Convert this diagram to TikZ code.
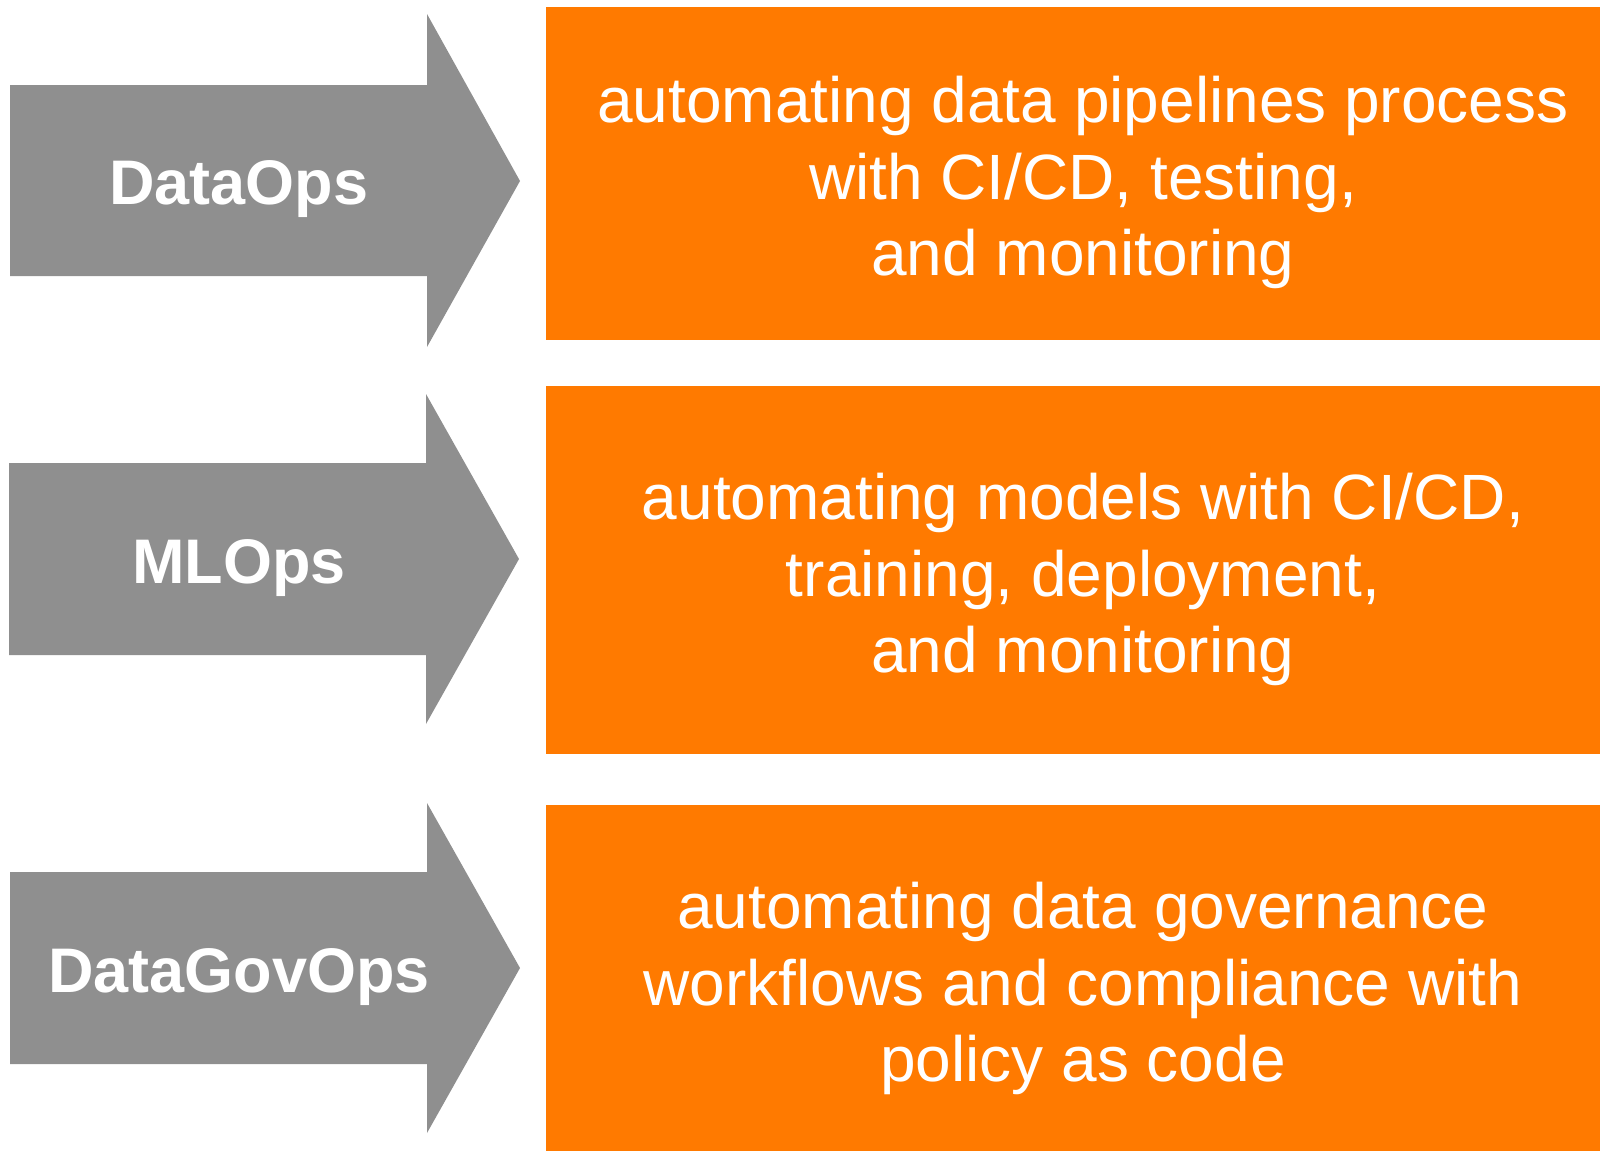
\documentclass[tikz,border=0pt]{standalone}
\usepackage{fontspec}
\setmainfont{Liberation Sans}
\definecolor{arrowgray}{HTML}{8F8F8F}
\definecolor{boxorange}{HTML}{FF7A00}
\begin{document}
\begin{tikzpicture}[x=1pt,y=-1pt,
  grayarrow/.style={fill=arrowgray},
  obox/.style={fill=boxorange, draw=none, inner sep=0pt, anchor=north west},
  lbl/.style={text=white, anchor=base, inner sep=0pt, font=\fontsize{63}{75}\selectfont\bfseries},
  desc/.style={text=white, align=center, inner sep=0pt, font=\fontsize{64}{76.5}\selectfont}]
\useasboundingbox (0,0) rectangle (1600,1151);
% orange boxes
\node[obox, minimum width=1054pt, minimum height=333pt] (b1) at (546,7) {};
\node[obox, minimum width=1054pt, minimum height=368pt] (b2) at (546,386) {};
\node[obox, minimum width=1054pt, minimum height=346pt] (b3) at (546,805) {};
% gray arrows
\fill[grayarrow] (10,85) -- (427,85) -- (427,14) -- (520,181) -- (427,347) -- (427,276) -- (10,276) -- cycle;
\fill[grayarrow] (9,463) -- (426,463) -- (426,394) -- (519,559) -- (426,724) -- (426,655) -- (9,655) -- cycle;
\fill[grayarrow] (10,872) -- (427,872) -- (427,803) -- (520,968) -- (427,1133) -- (427,1064) -- (10,1064) -- cycle;
% labels
\node[lbl] (l1) at (239,204.5) {DataOps};
\node[lbl] (l2) at (239,583) {MLOps};
\node[lbl] (l3) at (239,992) {DataGovOps};
% descriptions
\node[desc] (d1) at (1083,182.5) {automating data pipelines process\\with CI/CD, testing,\\and monitoring};
\node[desc] (d2) at (1083,579.5) {automating models with CI/CD,\\training, deployment,\\and monitoring};
\node[desc] (d3) at (1083,988.5) {automating data governance\\workflows and compliance with\\policy as code};
\end{tikzpicture}
\end{document}
